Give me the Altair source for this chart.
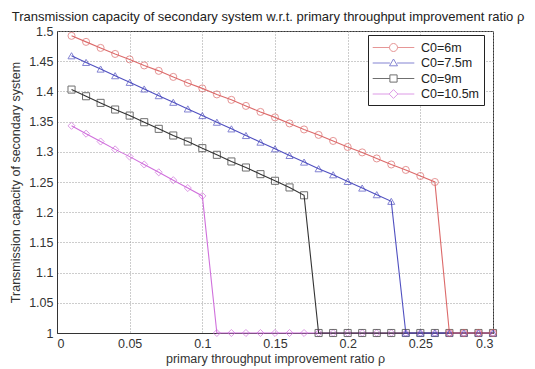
import altair as alt
import pandas as pd

# primary throughput improvement ratio (x grid)
rho = [0.01, 0.02, 0.03, 0.04, 0.05, 0.06, 0.07, 0.08, 0.09, 0.10,
       0.11, 0.12, 0.13, 0.14, 0.15, 0.16, 0.17, 0.18, 0.19, 0.20,
       0.21, 0.22, 0.23, 0.24, 0.25, 0.26, 0.27, 0.28, 0.29, 0.30]

# transmission capacity of the secondary system for each C0
cap_6m = [1.492, 1.482, 1.472, 1.462, 1.453, 1.443, 1.434, 1.424, 1.414, 1.405,
          1.395, 1.386, 1.376, 1.366, 1.357, 1.347, 1.337, 1.328, 1.318, 1.308,
          1.299, 1.289, 1.279, 1.270, 1.260, 1.250, 1.0, 1.0, 1.0, 1.0]
cap_7_5m = [1.459, 1.448, 1.437, 1.426, 1.415, 1.404, 1.393, 1.382, 1.371, 1.360,
            1.349, 1.338, 1.327, 1.316, 1.305, 1.294, 1.283, 1.272, 1.262, 1.251,
            1.240, 1.229, 1.218, 1.0, 1.0, 1.0, 1.0, 1.0, 1.0, 1.0]
cap_9m = [1.403, 1.392, 1.381, 1.370, 1.360, 1.349, 1.338, 1.327, 1.317, 1.306,
          1.295, 1.284, 1.274, 1.263, 1.252, 1.241, 1.228, 1.0, 1.0, 1.0,
          1.0, 1.0, 1.0, 1.0, 1.0, 1.0, 1.0, 1.0, 1.0, 1.0]
cap_10_5m = [1.343, 1.330, 1.317, 1.304, 1.292, 1.279, 1.266, 1.253, 1.240, 1.227,
             1.0, 1.0, 1.0, 1.0, 1.0, 1.0, 1.0, 1.0, 1.0, 1.0,
             1.0, 1.0, 1.0, 1.0, 1.0, 1.0, 1.0, 1.0, 1.0, 1.0]

series_names = ["C0=6m", "C0=7.5m", "C0=9m", "C0=10.5m"]
series_values = [cap_6m, cap_7_5m, cap_9m, cap_10_5m]
series_colors = ["#dc6a6a", "#5050c0", "#333333", "#d070dc"]
marker_shapes = ["circle", "triangle-up", "square", "diamond"]

# legend glyphs: a short line segment with the series marker in the middle
legend_glyphs = [
    "M-2.6,0H-0.5M0.5,0H2.6M-0.5,0A0.5,0.5,0,1,0,0.5,0A0.5,0.5,0,1,0,-0.5,0Z",
    "M-2.6,0H-0.45M0.45,0H2.6M0,-0.5L0.5,0.35L-0.5,0.35Z",
    "M-2.6,0H-0.45M0.45,0H2.6M-0.45,-0.45H0.45V0.45H-0.45Z",
    "M-2.6,0H-0.55M0.55,0H2.6M0,-0.55L0.55,0L0,0.55L-0.55,0Z",
]

x_ticks = [0, 0.05, 0.1, 0.15, 0.2, 0.25, 0.3]
y_ticks = [1, 1.05, 1.1, 1.15, 1.2, 1.25, 1.3, 1.35, 1.4, 1.45, 1.5]

rows = []
# draw the larger-C0 series first so the 6m curve sits on top
for name, vals in reversed(list(zip(series_names, series_values))):
    for r, v in zip(rho, vals):
        rows.append({"rho": r, "cap": v, "series": name})
df = pd.DataFrame(rows)

FONT = "Liberation Sans"

x_enc = alt.X(
    "rho:Q",
    scale=alt.Scale(domain=[0, 0.3], nice=False),
    axis=alt.Axis(values=x_ticks, format=".2~f",
                  title="primary throughput improvement ratio \u03c1"),
)
y_enc = alt.Y(
    "cap:Q",
    scale=alt.Scale(domain=[1, 1.5], nice=False, zero=False),
    axis=alt.Axis(values=y_ticks, format=".2~f",
                  title="Transmission capacity of secondary system"),
)

color_scale = alt.Scale(domain=series_names, range=series_colors)

lines = alt.Chart(df).mark_line(strokeWidth=1.1).encode(
    x=x_enc, y=y_enc,
    color=alt.Color("series:N", scale=color_scale, legend=None),
    detail="series:N",
)

points = alt.Chart(df).mark_point(filled=False, size=50, strokeWidth=1).encode(
    x=x_enc, y=y_enc,
    color=alt.Color("series:N", scale=color_scale, legend=None),
    shape=alt.Shape("series:N",
                    scale=alt.Scale(domain=series_names, range=marker_shapes),
                    legend=None),
)

legend_cfg = dict(
    title=None, orient="none", legendX=311, legendY=4,
    fillColor="white", strokeColor="#222222", padding=4,
    symbolSize=256, symbolOffset=13, labelOffset=19, rowPadding=0.5,
    labelAlign="left",
    symbolStrokeWidth=1, labelFont=FONT, labelFontSize=12.5, labelColor="#222222",
)

legend_layer = alt.Chart(df).transform_filter(alt.datum.cap < 0).mark_point(
    filled=False, strokeWidth=1
).encode(
    x=x_enc, y=y_enc,
    color=alt.Color("series:N", scale=color_scale, legend=alt.Legend(**legend_cfg)),
    shape=alt.Shape("series:N",
                    scale=alt.Scale(domain=series_names, range=legend_glyphs),
                    legend=alt.Legend(**legend_cfg)),
)

chart = alt.layer(lines, points, legend_layer).resolve_scale(
    color="independent", shape="independent"
).properties(
    width=436,
    height=302,
    padding={"left": 57, "top": 31, "right": 42, "bottom": 36},
    autosize=alt.AutoSizeParams(type="none"),
    title=alt.TitleParams(
        "Transmission capacity of secondary system w.r.t. primary throughput improvement ratio \u03c1",
        font=FONT, fontSize=13, fontWeight="normal", color="#222222",
        anchor="middle", offset=1, dx=-7,
    ),
).configure_view(
    stroke="#333333", strokeWidth=1
).configure_axis(
    labelFont=FONT, labelFontSize=12.5, labelColor="#333333",
    titleFont=FONT, titleFontSize=12.5, titleFontWeight="normal", titleColor="#333333",
    domainColor="#333333", ticks=False, labelPadding=4,
    grid=True, gridColor="#9a9a9a", gridDash=[1, 2], gridOpacity=1,
).configure_axisY(
    titlePadding=6
).configure_axisX(
    titlePadding=3
)

chart.save("out.html", embed_options={"renderer": "svg", "actions": False})
